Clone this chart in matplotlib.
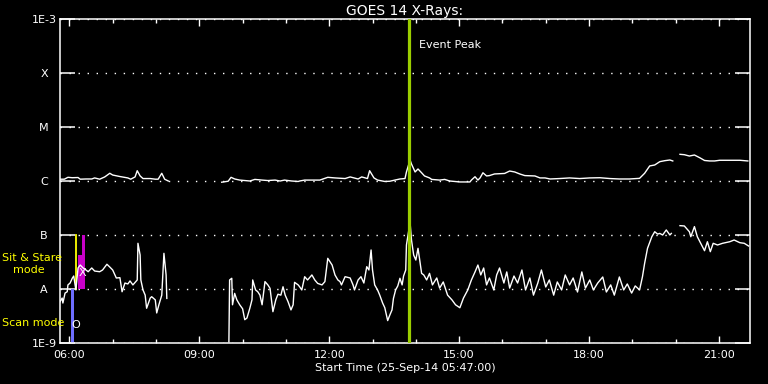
import numpy as np
import matplotlib.pyplot as plt
from matplotlib.ticker import FixedLocator, MultipleLocator, FuncFormatter, NullLocator

# GOES 14 long channel (1-8 A), flux in units of 1e-6 W/m^2, None = data gap
long_times = ["05:47", "05:53", "05:58", "06:04", "06:12", "06:15", "06:23", "06:31",
              "06:35", "06:42", "06:49", "06:56", "07:00", "07:10", "07:21", "07:25",
              "07:31", "07:34", "07:38", "07:42", "07:52", "07:59", "08:03", "08:08",
              "08:12", "08:17", None,
              "09:31", "09:40", "09:44", "09:49", "09:56", "10:03", "10:10", "10:17",
              "10:27", "10:35", "10:45", "10:52", "10:58", "11:08", "11:17", "11:19",
              "11:26", "11:36", "11:47", "11:58", "12:08", "12:22", "12:29", "12:40",
              "12:45", "12:53", "12:56", "13:02", "13:07", "13:17", "13:24", "13:31",
              "13:38", "13:45", "13:47", "13:52", "13:54", "13:59", "14:03", "14:08",
              "14:12", "14:19", "14:22", "14:33", "14:40", "14:47", "15:01", "15:15",
              "15:17", "15:22", "15:26", "15:29", "15:33", "15:38", "15:42", "15:49",
              "16:03", "16:10", "16:17", "16:24", "16:31", "16:45", "16:52", "16:59",
              "17:06", "17:19", "17:33", "17:47", "18:01", "18:15", "18:29", "18:42",
              "18:56", "19:10", "19:17", "19:24", "19:31", "19:38", "19:45", "19:52",
              "19:56", None,
              "20:06", "20:12", "20:19", "20:26", "20:34", "20:40", "20:47", "20:54",
              "21:01", "21:15", "21:29", "21:40"]
long_flux = [1.08, 1.08, 1.17, 1.15, 1.16, 1.08, 1.09, 1.09,
             1.14, 1.08, 1.19, 1.39, 1.29, 1.21, 1.14, 1.08,
             1.19, 1.55, 1.24, 1.11, 1.11, 1.08, 1.08, 1.39,
             1.08, 1.00, None,
             0.95, 0.99, 1.17, 1.09, 1.04, 1.02, 1.00, 1.07,
             1.04, 1.02, 1.04, 1.00, 1.04, 1.00, 0.98, 1.00,
             1.04, 1.04, 1.04, 1.17, 1.14, 1.11, 1.19, 1.09,
             1.19, 1.11, 1.55, 1.14, 1.04, 0.98, 0.99, 1.04,
             1.09, 1.11, 1.47, 2.45, 2.06, 1.47, 1.67, 1.42,
             1.24, 1.14, 1.07, 1.04, 1.07, 1.00, 0.96, 0.96,
             1.04, 1.20, 1.04, 1.14, 1.42, 1.24, 1.26, 1.35,
             1.38, 1.53, 1.47, 1.35, 1.26, 1.24, 1.14, 1.14,
             1.09, 1.11, 1.14, 1.11, 1.14, 1.15, 1.11, 1.09,
             1.09, 1.12, 1.39, 1.90, 1.98, 2.28, 2.38, 2.45,
             2.35, None,
             3.12, 3.07, 2.90, 3.03, 2.67, 2.40, 2.35, 2.35,
             2.42, 2.42, 2.42, 2.35]

# short channel (0.5-4 A), flux in units of 1e-8 W/m^2
short_times = ["05:47", "05:50", "05:51", "05:54", "05:57", "05:58", "06:01", "06:04",
               "06:06", "06:09", "06:12", "06:15", "06:19", "06:23", "06:26", "06:31",
               "06:35", "06:42", "06:46", "06:52", "06:56", "07:00", "07:05", "07:10",
               "07:13", "07:17", "07:21", "07:24", "07:28", "07:34", "07:35", "07:38",
               "07:39", "07:42", "07:45", "07:47", "07:52", "07:54", "07:59", "08:01",
               "08:04", "08:08", "08:11", "08:14", "08:15", None,
               "09:41", "09:42", "09:45", "09:46", "09:49", "09:52", "09:56", "10:00",
               "10:03", "10:06", "10:10", "10:13", "10:14", "10:18", "10:21", "10:24",
               "10:27", "10:31", "10:35", "10:38", "10:42", "10:46", "10:49", "10:53",
               "10:56", "10:59", "11:03", "11:07", "11:10", "11:12", "11:17", "11:19",
               "11:22", "11:26", "11:30", "11:36", "11:40", "11:44", "11:50", "11:54",
               "11:58", "12:04", "12:08", "12:12", "12:15", "12:17", "12:22", "12:29",
               "12:33", "12:35", "12:40", "12:44", "12:48", "12:52", "12:55", "12:58",
               "13:00", "13:03", "13:07", "13:10", "13:14", "13:17", "13:21", "13:24",
               "13:27", "13:29", "13:32", "13:35", "13:38", "13:41", "13:43", "13:46",
               "13:47", "13:52", "13:54", "13:57", "14:00", "14:03", "14:05", "14:08",
               "14:11", "14:15", "14:19", "14:23", "14:29", "14:33", "14:38", "14:44",
               "14:50", "14:55", "15:01", "15:06", "15:12", "15:17", "15:22", "15:26",
               "15:30", "15:34", "15:38", "15:42", "15:48", "15:52", "15:56", "16:02",
               "16:06", "16:10", "16:16", "16:21", "16:27", "16:32", "16:38", "16:43",
               "16:49", "16:54", "17:00", "17:05", "17:11", "17:16", "17:22", "17:27",
               "17:33", "17:38", "17:44", "17:50", "17:55", "18:01", "18:06", "18:12",
               "18:19", "18:24", "18:30", "18:35", "18:42", "18:48", "18:53", "18:59",
               "19:04", "19:10", "19:14", "19:17", "19:21", "19:27", "19:31", "19:35",
               "19:38", "19:42", "19:47", "19:52", "19:54", None,
               "20:06", "20:12", "20:19", "20:21", "20:26", "20:30", "20:36", "20:40",
               "20:44", "20:48", "20:52", "20:58", "21:05", "21:15", "21:21", "21:29",
               "21:35", "21:41"]
short_flux = [0.58, 0.68, 0.55, 0.84, 0.89, 1.19, 1.29, 1.58,
              1.74, 0.96, 2.45, 2.78, 2.45, 2.25, 2.09, 2.45,
              2.15, 2.09, 2.25, 2.87, 2.55, 2.25, 1.60, 1.62,
              0.89, 1.29, 1.24, 1.41, 1.19, 1.47, 7.02, 4.26,
              1.47, 0.96, 0.77, 0.44, 0.68, 0.72, 0.63, 0.36,
              0.51, 0.77, 4.58, 1.82, 0.67, None,
              0.105, 1.47, 1.58, 0.51, 0.83, 0.63, 0.51, 0.43,
              0.27, 0.29, 0.44, 0.63, 1.47, 0.96, 0.89, 0.77,
              0.51, 1.37, 1.19, 1.03, 0.38, 0.63, 0.80, 0.77,
              1.10, 0.77, 0.58, 0.41, 0.51, 1.33, 1.19, 1.10,
              0.96, 1.69, 1.47, 1.82, 1.47, 1.27, 1.19, 1.37,
              3.70, 2.78, 1.82, 1.47, 1.37, 1.19, 1.69, 1.60,
              1.19, 0.96, 1.47, 1.69, 1.29, 2.59, 2.25, 5.28,
              2.25, 1.19, 0.96, 0.77, 0.55, 0.45, 0.26, 0.33,
              0.41, 0.67, 0.96, 1.14, 1.58, 1.19, 1.74, 2.25,
              6.53, 17.2, 8.08, 4.26, 3.44, 5.67, 3.75, 1.95,
              1.82, 1.47, 1.95, 1.19, 1.60, 1.04, 1.35, 0.77,
              0.63, 0.51, 0.45, 0.68, 0.96, 1.47, 2.07, 2.78,
              1.82, 2.45, 1.19, 1.60, 0.96, 1.82, 2.45, 1.29,
              2.07, 1.04, 1.74, 1.29, 2.25, 0.96, 1.60, 0.77,
              1.29, 2.25, 1.09, 1.47, 0.77, 1.35, 0.96, 1.82,
              1.19, 1.60, 0.88, 2.07, 1.04, 1.47, 0.96, 1.29,
              1.67, 0.88, 1.19, 0.77, 1.67, 0.96, 1.24, 0.84,
              1.14, 0.96, 1.69, 2.99, 5.67, 9.30, 11.5, 10.4,
              10.7, 10.0, 12.4, 10.0, 10.7, None,
              14.9, 14.7, 11.5, 9.30, 14.3, 9.30, 6.53, 5.12,
              7.51, 4.91, 7.02, 6.53, 7.02, 7.51, 8.08, 7.20,
              7.02, 6.26]

start_time = "05:47"
end_time = "21:43"
event_time = "13:50"

flux_levels = [1e-9, 1e-8, 1e-7, 1e-6, 1e-5, 1e-4, 1e-3]
level_labels = ["1E-9", "A", "B", "C", "M", "X", "1E-3"]

# sit & stare / scan mode markers
scan_span = ["06:02", "06:06"]
scan_flux = [1e-9, 1e-8]
stare_line = "06:09"
stare_line_flux = [1e-8, 1e-7]
stare_bar_low = ["06:12", "06:21"]
stare_bar_low_flux = [1e-8, 4.3e-8]
stare_bar_high = ["06:17", "06:21"]
stare_bar_high_flux = [1e-8, 1e-7]


def hrs(t):
    if t is None:
        return np.nan
    h, m = t.split(":")
    return int(h) + int(m) / 60.0


def arr(vals, scale):
    return np.array([np.nan if v is None else v * scale for v in vals])


plt.rcParams['font.family'] = ['DejaVu Sans']
fig = plt.figure(figsize=(7.68, 3.84), dpi=100, facecolor='black')
ax = fig.add_axes([60 / 768, 41 / 384, 690 / 768, 324 / 384])
ax.set_facecolor('black')

ax.set_yscale('log')
ax.set_ylim(1e-9, 1e-3)
ax.set_xlim(hrs(start_time), hrs(end_time))

# mode markers
ax.fill_between([hrs(t) for t in scan_span], scan_flux[0], scan_flux[1],
                color='#6e6eff', lw=0, zorder=2)
ax.plot([hrs(stare_line)] * 2, stare_line_flux, color='#ffff00', lw=1.3, zorder=2)
ax.fill_between([hrs(t) for t in stare_bar_low], stare_bar_low_flux[0], stare_bar_low_flux[1],
                color='#c800c8', lw=0, zorder=2)
ax.fill_between([hrs(t) for t in stare_bar_high], stare_bar_high_flux[0], stare_bar_high_flux[1],
                color='#c800c8', lw=0, zorder=2)

lt = np.array([hrs(t) for t in long_times])
st = np.array([hrs(t) for t in short_times])
ax.plot(lt, arr(long_flux, 1e-6), color='white', lw=1.0, zorder=3)
ax.plot(st, arr(short_flux, 1e-8), color='white', lw=1.0, zorder=3)

ax.axvline(hrs(event_time), color='#9acd00', lw=2.3, zorder=4)
ax.text(hrs(event_time) + 0.24, 3.3e-4, "Event Peak", color='white', fontsize=8,
        va='center', ha='left')

# axes styling
for s in ax.spines.values():
    s.set_color('white')
    s.set_linewidth(1.1)

ax.yaxis.set_major_locator(FixedLocator(flux_levels))
ax.yaxis.set_minor_locator(NullLocator())
ax.set_yticklabels(level_labels)
for lbl in ax.get_yticklabels():
    lbl.set_horizontalalignment('center')
ax.tick_params(axis='y', which='major', direction='in', length=10.5, width=1.1,
               colors='white', left=True, right=True, labelsize=8, pad=11.5)

ax.xaxis.set_major_locator(FixedLocator([6, 9, 12, 15, 18, 21]))
ax.xaxis.set_minor_locator(MultipleLocator(1))
ax.xaxis.set_major_formatter(FuncFormatter(lambda v, p: "%02d:00" % int(round(v))))
ax.tick_params(axis='x', which='major', direction='in', length=5, width=1.0,
               colors='white', top=True, bottom=True, labelsize=8, pad=5)
ax.tick_params(axis='x', which='minor', direction='in', length=3, width=1.0,
               colors='white', top=True, bottom=True)

ax.yaxis.grid(True, which='major', color='white', linestyle=(0, (1, 5.5)), linewidth=1.0)

ax.set_xlabel("Start Time (25-Sep-14 05:47:00)", color='white', fontsize=8, labelpad=2)
ax.set_title("GOES 14 X-Rays:", color='white', fontsize=10, pad=3)

# left side mode annotations
fig.text(2 / 768, 1 - 258 / 384, "Sit & Stare", color='#ffff00', fontsize=8,
         ha='left', va='center')
fig.text(13 / 768, 1 - 270 / 384, "mode", color='#ffff00', fontsize=8,
         ha='left', va='center')
fig.text(2 / 768, 1 - 323 / 384, "Scan mode", color='#ffff00', fontsize=8,
         ha='left', va='center')
ax.text(hrs("06:09"), 2.2e-9, "O", color='white', fontsize=8, ha='center', va='center', zorder=5)
ax.text(hrs("06:18"), 2.0e-8, "X", color='white', fontsize=8, ha='center', va='center', zorder=5)

fig.savefig("out.png", dpi=100, facecolor='black')
